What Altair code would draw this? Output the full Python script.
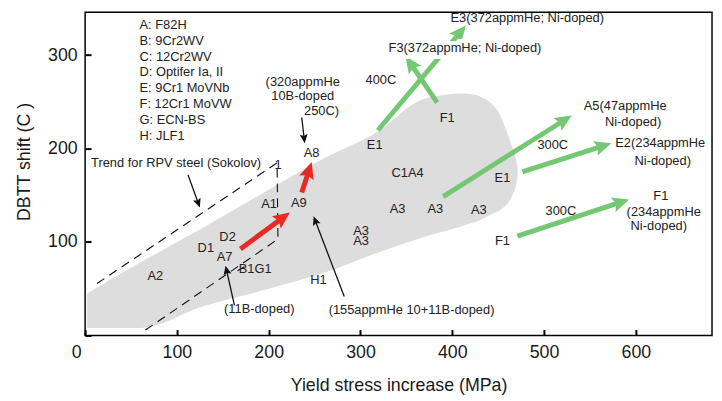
import math
import altair as alt
import pandas as pd

XMAX, YMAX = 683, 346
W, H = 634, 327
SX, SY = W / XMAX, H / YMAX
FONT = "Liberation Sans"
TXT = "#222222"

# ---- gray scatter band (upper / lower boundary) ----
band_x = [2, 60, 128, 200, 263, 317, 371, 414, 432, 443, 452, 457, 461, 465, 468.5, 470.4, 471.2]
band_hi = [45, 78, 115, 156, 191, 217, 254, 259, 255, 248, 236, 224, 214, 202, 192, 184, 177]
band_lo = [8, 8, 31, 50, 68, 88, 106, 118, 124, 130, 134, 138, 142, 149, 157, 165, 172]

# ---- RPV steel trend (dashed) ----
trend_x = [12.9, 209.1, 210.1, 65.7]
trend_y = [55.6, 184.7, 103.2, 5.8]

# ---- arrows: tail -> tip ----
red_tail_x = [169.2, 236.0]
red_tail_y = [92.6, 152.9]
red_tip_x = [223.1, 246.8]
red_tip_y = [131.7, 185.7]

green_tail_x = [319.0, 383.6, 390.1, 476.3, 470.9]
green_tail_y = [219.6, 249.2, 148.7, 175.1, 106.3]
green_tip_x = [414.9, 349.1, 530.2, 573.3, 592.7]
green_tip_y = [331.7, 298.9, 235.4, 205.8, 145.5]

black_tail_x = [236.0, 112.1, 162.7, 282.3]
black_tail_y = [233.3, 171.9, 32.3, 41.8]
black_tip_x = [239.2, 125.0, 153.0, 248.9]
black_tip_y = [205.8, 137.0, 74.6, 127.5]

tick_x = [166.0, 173.5]
tick_y = [69.3, 73.5]

# ---- material key ----
key_text = ["A: F82H", "B: 9Cr2WV", "C: 12Cr2WV", "D: Optifer Ia, II",
            "E: 9Cr1 MoVNb", "F: 12Cr1 MoVW", "G: ECN-BS", "H: JLF1"]
key_x = [59.3] * 8
key_y = [331.7, 314.8, 297.9, 281.5, 264.6, 247.6, 230.7, 213.8]

# ---- annotations (centered) ----
ann_text = ["(320appmHe", "10B-doped", "250C)", "A8", "Trend for RPV steel (Sokolov)", "1",
            "A1", "A9", "D2", "D1", "A7", "B1G1", "A2", "(11B-doped)", "H1",
            "(155appmHe 10+11B-doped)", "E1", "F1", "400C", "C1A4", "E1",
            "A3", "A3", "A3", "A3", "A3", "F1",
            "E3(372appmHe; Ni-doped)", "A5(47appmHe", "Ni-doped)", "300C",
            "E2(234appmHe", "Ni-doped)", "F1", "(234appmHe", "Ni-doped)", "300C"]
ann_x = [237.1, 237.1, 257.5, 246.8, 99.1, 210.1,
         200.4, 232.8, 155.2, 131.5, 151.9, 185.3, 76.5, 189.7, 254.3,
         355.6, 315.5, 394.4, 322.2, 351.3, 454.7,
         340.5, 381.5, 428.9, 300.6, 300.6, 454.7,
         481.7, 588.4, 597.0, 509.5,
         626.6, 629.3, 627.2, 630.4, 625.0, 518.3]
ann_y = [271.4, 256.6, 240.7, 195.2, 184.7, 182.5,
         140.2, 141.3, 105.3, 93.7, 84.1, 71.4, 64.0, 28.0, 59.8,
         27.0, 203.7, 232.3, 273.5, 174.0, 168.8,
         134.9, 134.9, 133.9, 112.0, 100.6, 101.0,
         339.2, 245.8, 228.0, 203.7,
         205.8, 186.8, 149.7, 131.7, 116.7, 132.8]

f3_text = ["F3(372appmHe; Ni-doped)"]
f3_x = [413.8]
f3_y = [307.4]


def arrows(tx, ty, hx, hy, head_len):
    shafts, heads = [], []
    for i, (a, b, c, d) in enumerate(zip(tx, ty, hx, hy)):
        dxp, dyp = (c - a) * SX, (d - b) * SY
        lp = math.hypot(dxp, dyp)
        f = max(0.0, 1 - head_len * 0.75 / lp)
        shafts.append({"id": i, "o": 0, "x": a, "y": b})
        shafts.append({"id": i, "o": 1, "x": a + (c - a) * f, "y": b + (d - b) * f})
        heads.append({"x": c, "y": d, "ang": math.degrees(math.atan2(dxp, dyp)) % 360})
    return pd.DataFrame(shafts), pd.DataFrame(heads)


xs = alt.Scale(domain=[0, XMAX], nice=False, zero=False)
ys = alt.Scale(domain=[0, YMAX], nice=False, zero=False)
X = lambda f="x": alt.X(f"{f}:Q", scale=xs)
Y = lambda f="y": alt.Y(f"{f}:Q", scale=ys)

base_x = alt.X("x:Q", scale=xs, axis=alt.Axis(
    values=[0, 100, 200, 300, 400, 500, 600], title="Yield stress increase (MPa)",
    offset=-6, tickSize=6, tickWidth=2, tickColor="black", domain=False, grid=False,
    labelPadding=8, labelFont=FONT, labelFontSize=18, labelColor="#1a1a1a",
    labelOffset={"condition": {"test": "datum.value === 0", "value": -14}, "value": 0},
    titleFont=FONT, titleFontSize=18, titleFontWeight="normal", titleColor="#1a1a1a",
    titlePadding=16))
base_y = alt.Y("hi:Q", scale=ys, axis=alt.Axis(
    values=[0, 100, 200, 300], title="DBTT shift (C )",
    offset=-6, tickSize=6, tickWidth=2, tickColor="black", domain=False, grid=False,
    labelPadding=8, labelFont=FONT, labelFontSize=18, labelColor="#1a1a1a",
    labelExpr="datum.value == 0 ? '' : datum.label",
    titleFont=FONT, titleFontSize=18, titleFontWeight="normal", titleColor="#1a1a1a",
    titlePadding=14, titleY=151))

band = alt.Chart(pd.DataFrame({"x": band_x, "hi": band_hi, "lo": band_lo})).mark_area(
    color="#dddddd", interpolate="monotone").encode(x=base_x, y=base_y, y2="lo:Q")

trend = alt.Chart(pd.DataFrame({"x": trend_x, "y": trend_y, "o": range(4)})).mark_line(
    color="#111111", strokeWidth=1.1, strokeDash=[9, 6]).encode(x=X(), y=Y(), order="o:O")

HEAD = "M0,0 L0.9,2 L0,1.65 L-0.9,2 Z"
layers = [band, trend]
for (tx, ty, hx, hy, col, sw, hl) in [
        (black_tail_x, black_tail_y, black_tip_x, black_tip_y, "#111111", 1.3, 9),
        (red_tail_x, red_tail_y, red_tip_x, red_tip_y, "#e82a25", 5, 17),
        (green_tail_x, green_tail_y, green_tip_x, green_tip_y, "#74c874", 5, 17)]:
    sh, hd = arrows(tx, ty, hx, hy, hl)
    layers.append(alt.Chart(sh).mark_line(color=col, strokeWidth=sw, strokeCap="butt").encode(
        x=X(), y=Y(), detail="id:N", order="o:O"))
    layers.append(alt.Chart(hd).mark_point(shape=HEAD, filled=True, color=col, opacity=1,
                                           size=hl * hl, strokeWidth=0).encode(
        x=X(), y=Y(), angle=alt.Angle("ang:Q", scale=None)))

layers.append(alt.Chart(pd.DataFrame({"x": tick_x, "y": tick_y})).mark_line(
    color="#111111", strokeWidth=1.1).encode(x=X(), y=Y()))

layers.append(alt.Chart(pd.DataFrame({"t": key_text, "x": key_x, "y": key_y})).mark_text(
    align="left", baseline="middle", font=FONT, fontSize=13, color=TXT).encode(
    x=X(), y=Y(), text="t:N"))
layers.append(alt.Chart(pd.DataFrame({"t": ann_text, "x": ann_x, "y": ann_y})).mark_text(
    align="center", baseline="middle", font=FONT, fontSize=13, color=TXT).encode(
    x=X(), y=Y(), text="t:N"))
f3 = pd.DataFrame({"t": f3_text, "x": f3_x, "y": f3_y})
layers.append(alt.Chart(f3).mark_text(
    align="center", baseline="middle", font=FONT, fontSize=13, color="white",
    stroke="white", strokeWidth=8).encode(x=X(), y=Y(), text="t:N"))
layers.append(alt.Chart(f3).mark_text(
    align="center", baseline="middle", font=FONT, fontSize=13, color=TXT).encode(
    x=X(), y=Y(), text="t:N"))

chart = alt.layer(*layers).properties(
    width=W, height=H, background="white",
    autosize=alt.AutoSizeParams(type="none"),
    padding={"left": 78, "top": 2, "right": 2, "bottom": 60},
).configure_view(stroke="black", strokeWidth=1.5)

chart.save("out.html", embed_options={"renderer": "svg", "actions": False})
